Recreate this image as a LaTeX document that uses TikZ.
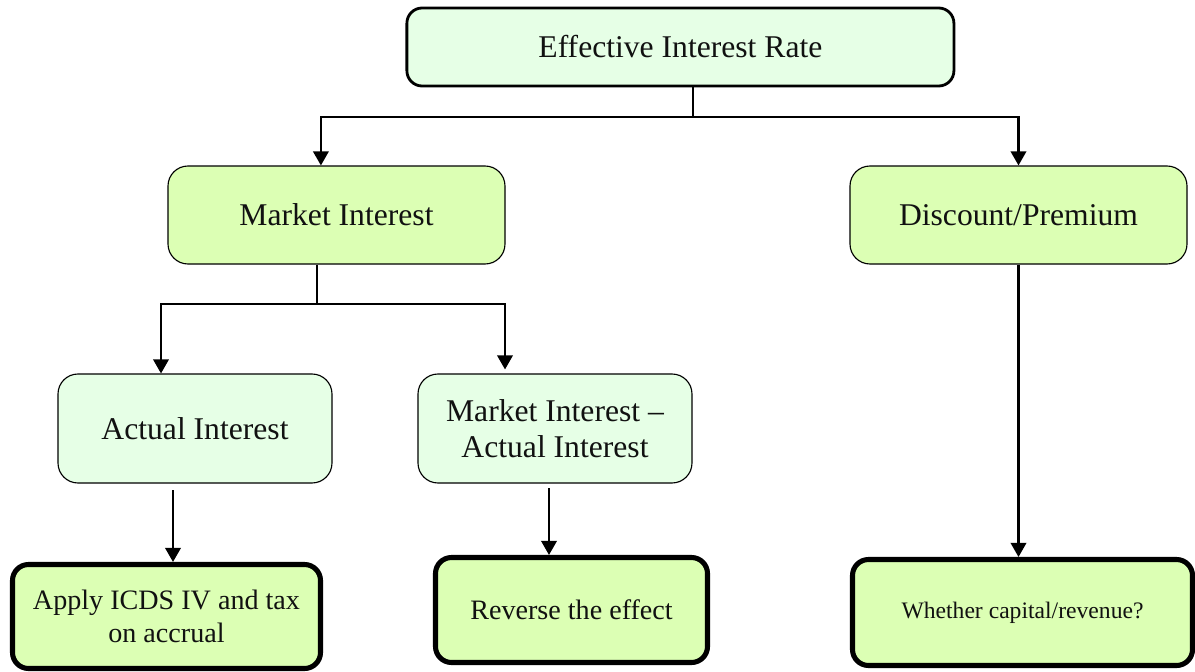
\documentclass[tikz,border=0pt]{standalone}
\usepackage{fontspec}
\setmainfont{Liberation Serif}
\usepackage{tikz}
\usetikzlibrary{positioning,calc,arrows.meta}
\definecolor{mint}{HTML}{E6FFE6}
\definecolor{lime}{HTML}{DCFFB4}
\definecolor{ink}{HTML}{111111}

\begin{document}
\begin{tikzpicture}[>=Triangle, font=\fontsize{22.5}{26}\selectfont,
  base/.style={draw=black, align=center, inner sep=0pt, text=ink},
  topbox/.style={base, fill=mint, line width=2pt, rounded corners=3.8mm,
                 minimum width=13.675cm, minimum height=1.95cm},
  midbox/.style={base, fill=lime, line width=0.8pt, rounded corners=5mm,
                 minimum width=8.425cm, minimum height=2.45cm},
  subbox/.style={base, fill=mint, line width=0.8pt, rounded corners=5mm,
                 minimum width=6.85cm, minimum height=2.725cm},
  endbox/.style={base, fill=lime, line width=3.6pt, rounded corners=4mm,
                 font=\fontsize{20}{24}\selectfont},
  arr/.style={-{Triangle[length=10pt,width=11pt]}, line width=1.5pt},
  ln/.style={line width=1.5pt}]
  \useasboundingbox (0,0) rectangle (29.875,-16.8);
  % --- top level
  \node[topbox] (eir)  at (17.01,-1.175)    {Effective Interest Rate};
  \node[midbox] (mkt)  at (8.4125,-5.375)   {Market Interest};
  \node[midbox] (disc) at (25.4625,-5.375)  {Discount/Premium};
  % --- market interest split
  \node[subbox] (act)  at (4.875,-10.7125)  {Actual Interest};
  \node[subbox] (diff) at (13.875,-10.7125) {Market Interest --\\Actual Interest};
  % --- outcomes (bottom row)
  \node[endbox, minimum width=7.7cm, minimum height=2.6cm]
        (apply) at (4.1625,-15.4125) {Apply ICDS IV and tax\\on accrual};
  \node[endbox, minimum width=6.8cm, minimum height=2.625cm]
        (rev)   at (14.2875,-15.25)  {Reverse the effect};
  \node[endbox, minimum width=8.5cm, minimum height=2.65cm,
        font=\fontsize{16.8}{20}\selectfont]
        (whe)   at (25.5625,-15.3125) {Whether capital/revenue?};
  % --- junctions
  \coordinate (j1) at (17.325,-2.925);
  \coordinate (j2) at (7.925,-7.6);
  \coordinate (a1) at (4.325,-12.25);
  \coordinate (a2) at (13.725,-12.2);
  \draw[ln]  (eir.south -| j1) -- (j1);
  \draw[arr] (j1) -| ([xshift=-3.9mm]mkt.north);
  \draw[arr] (j1) -| (disc.north);
  \draw[ln]  (mkt.south -| j2) -- (j2);
  \draw[arr] (j2) -| ([xshift=-8.5mm]act.north);
  \draw[arr] (j2) -| ([xshift=-12.5mm,yshift=1mm]diff.north);
  \draw[arr] (a1) -- (a1 |- apply.north);
  \draw[arr] (a2) -- (a2 |- rev.north);
  \draw[arr] (disc.south) -- (disc.south |- whe.north);
\end{tikzpicture}
\end{document}
